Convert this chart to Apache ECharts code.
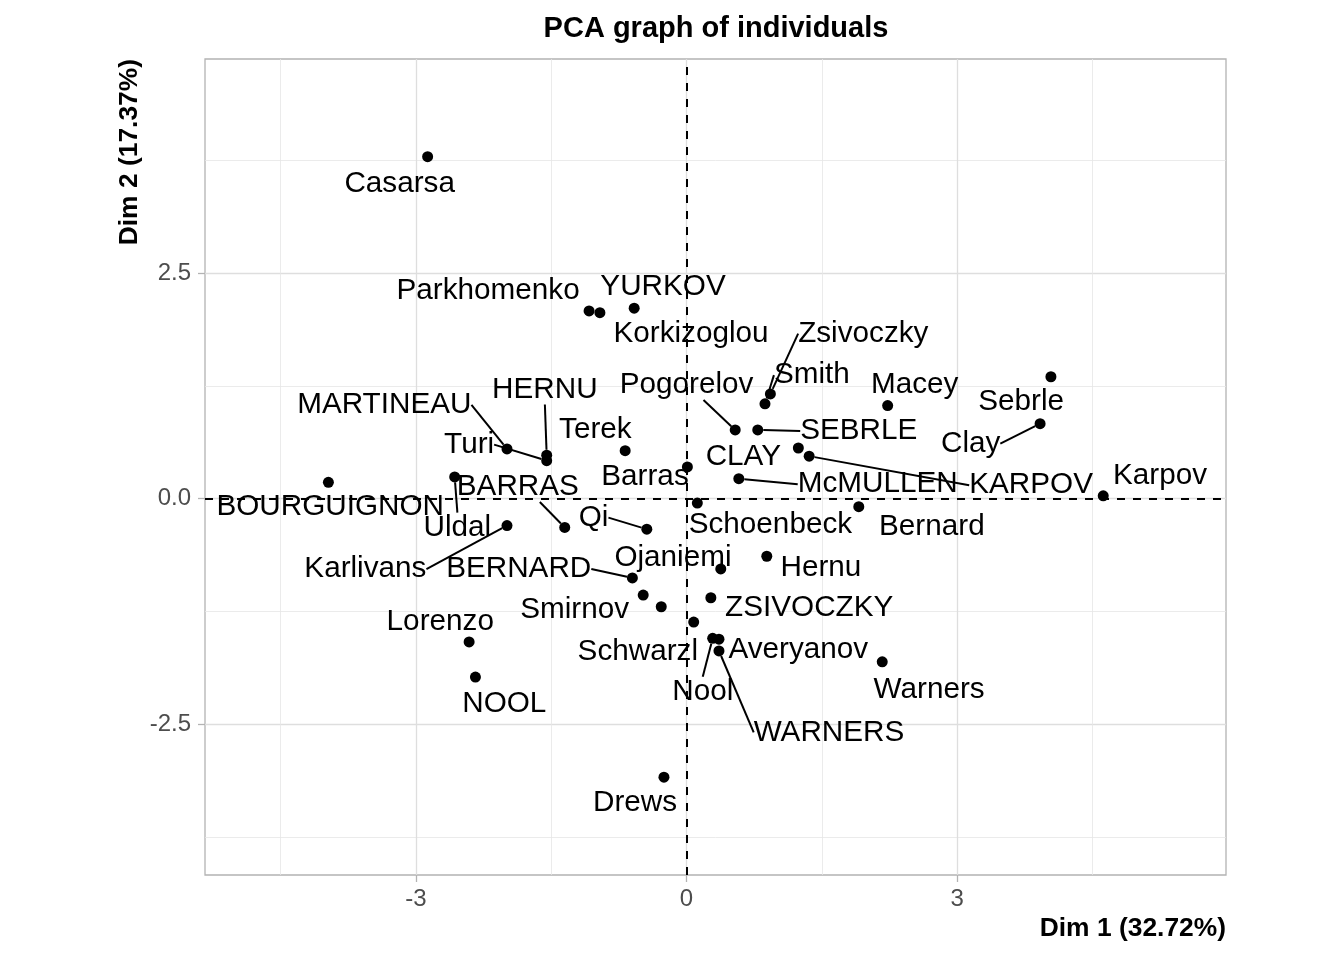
<!DOCTYPE html>
<html>
<head>
<meta charset="utf-8">
<title>PCA graph of individuals</title>
<script src="https://cdn.jsdelivr.net/npm/echarts@6.0.0/dist/echarts.min.js"></script>
<style>
  html, body { margin: 0; padding: 0; background: #fff; }
  #chart { width: 1344px; height: 960px; }
</style>
</head>
<body>
<div id="chart"></div>
<script>
// individuals, coordinates on Dim 1 / Dim 2
const names = ['SEBRLE', 'CLAY', 'KARPOV', 'BERNARD', 'YURKOV', 'WARNERS', 'ZSIVOCZKY', 'McMULLEN',
  'MARTINEAU', 'HERNU', 'BARRAS', 'NOOL', 'BOURGUIGNON', 'Sebrle', 'Clay', 'Karpov', 'Macey',
  'Warners', 'Zsivoczky', 'Hernu', 'Nool', 'Bernard', 'Schwarzl', 'Pogorelov', 'Schoenbeck',
  'Barras', 'Smith', 'Averyanov', 'Ojaniemi', 'Smirnov', 'Qi', 'Drews', 'Parkhomenko', 'Terek',
  'Gomez', 'Turi', 'Lorenzo', 'Karlivans', 'Korkizoglou', 'Uldal', 'Casarsa'];
const dim1 = [0.79, 1.24, 1.36, -0.60, -0.58, 0.36, 0.27, 0.58,
  -1.99, -1.55, -1.35, -2.34, -3.97, 4.04, 3.92, 4.62, 2.23,
  2.17, 0.93, 0.89, 0.29, 1.91, 0.08, 0.54, 0.12,
  0.01, 0.87, 0.36, 0.38, -0.28, -0.44, -0.25, -1.08, -0.68,
  -0.48, -1.55, -2.41, -1.99, -0.96, -2.57, -2.87];
const dim2 = [0.76, 0.56, 0.47, -0.88, 2.11, -1.69, -1.10, 0.22,
  0.55, 0.48, -0.32, -1.98, 0.18, 1.35, 0.83, 0.03, 1.03,
  -1.81, 1.16, -0.64, -1.55, -0.09, -1.37, 0.76, -0.05,
  0.35, 1.05, -1.56, -0.78, -1.20, -0.34, -3.09, 2.08, 0.53,
  -1.07, 0.42, -1.59, -0.30, 2.06, 0.24, 3.79];

// where each repelled label sits (same units as the axes); null = not labelled
const labelDim1 = [1.91, 0.63, 3.82, -1.86, -0.26, 1.58, 1.36, 2.12,
  -3.35, -1.57, -1.87, -2.02, -3.95, 3.71, 3.15, 5.25, 2.53,
  2.69, 1.96, 1.49, 0.18, 2.72, -0.54, 0.00, 0.93,
  -0.46, 1.39, 1.24, -0.15, -1.24, -1.03, -0.57, -2.20, -1.01,
  null, -2.41, -2.73, -3.56, 0.05, -2.54, -3.18];
const labelDim2 = [0.77, 0.49, 0.17, -0.76, 2.37, -2.57, -1.19, 0.18,
  1.06, 1.23, 0.15, -2.25, -0.07, 1.09, 0.63, 0.27, 1.28,
  -2.10, 1.85, -0.75, -2.12, -0.29, -1.68, 1.28, -0.27,
  0.26, 1.39, -1.66, -0.64, -1.21, -0.19, -3.35, 2.33, 0.78,
  null, 0.62, -1.35, -0.76, 1.85, -0.30, 3.51];
// labels joined to their point by a segment
const withSegment = ['SEBRLE', 'KARPOV', 'BERNARD', 'WARNERS', 'McMULLEN', 'MARTINEAU', 'HERNU',
  'BARRAS', 'Clay', 'Zsivoczky', 'Nool', 'Pogorelov', 'Smith', 'Qi', 'Turi', 'Karlivans', 'Uldal'];
// these two leave from the bottom of the label, so widen the (invisible) box on the right
const padRight = { Pogorelov: 34, BARRAS: 44 };

const xTicks = [-3, 0, 3];
const yTicks = [-2.5, 0, 2.5];
const xMinor = [-4.5, -1.5, 1.5, 4.5];
const yMinor = [-3.75, -1.25, 1.25, 3.75];
const xRange = [-5.338, 5.981];
const yRange = [-4.174, 4.873];

const FONT = '"Liberation Sans", Arial, Helvetica, sans-serif';

const chart = echarts.init(document.getElementById('chart'));

const points = names.map((n, i) => {
  const item = {
    name: n,
    value: [dim1[i], dim2[i]],
    label: { show: labelDim1[i] != null },
    labelLine: { show: withSegment.indexOf(n) >= 0 }
  };
  if (padRight[n]) {
    item.label.padding = [0, padRight[n], 0, 0];
    item.label.backgroundColor = 'rgba(255,255,255,0)';
  }
  return item;
});

function majorAxis(range, ticks, fmt, margin) {
  return {
    type: 'value',
    min: range[0],
    max: range[1],
    axisLine: { show: false, onZero: false },
    axisTick: {
      show: true, length: 7, customValues: ticks,
      lineStyle: { color: '#B3B3B3', width: 1.3 }
    },
    axisLabel: {
      customValues: ticks, margin: margin, formatter: fmt,
      color: '#4D4D4D', fontSize: 24, fontFamily: FONT
    },
    splitLine: { show: true, lineStyle: { color: '#DEDEDE', width: 1.3 } }
  };
}

function minorAxis(range, ticks) {
  return {
    type: 'value',
    min: range[0],
    max: range[1],
    axisLine: { show: false, onZero: false },
    axisTick: { show: false, customValues: ticks },
    axisLabel: { show: false, customValues: ticks },
    splitLine: { show: true, lineStyle: { color: '#E6E6E6', width: 0.8 } }
  };
}

const option = {
  animation: false,
  backgroundColor: '#fff',
  title: {
    text: 'PCA graph of individuals',
    left: 716,
    top: 14,
    padding: 0,
    textAlign: 'center',
    textStyle: { fontSize: 29, fontWeight: 'bold', color: '#000', fontFamily: FONT }
  },
  grid: {
    left: 205, top: 59, width: 1021, height: 816,
    show: true, borderColor: '#B3B3B3', borderWidth: 1.3,
    containLabel: false, outerBoundsMode: 'none'
  },
  xAxis: [
    majorAxis(xRange, xTicks, v => String(v), 12),
    minorAxis(xRange, xMinor)
  ],
  yAxis: [
    majorAxis(yRange, yTicks, v => v.toFixed(1), 14),
    minorAxis(yRange, yMinor)
  ],
  graphic: [
    {
      type: 'text', x: 1226, y: 929, silent: true,
      style: { text: 'Dim 1 (32.72%)', font: 'bold 26.4px ' + FONT, fill: '#000', align: 'right', verticalAlign: 'middle' }
    },
    {
      type: 'text', x: 130, y: 59, rotation: Math.PI / 2, silent: true,
      style: { text: 'Dim 2 (17.37%)', font: 'bold 26.4px ' + FONT, fill: '#000', align: 'right', verticalAlign: 'middle' }
    }
  ],
  series: [
    {
      type: 'scatter',
      xAxisIndex: 0,
      yAxisIndex: 0,
      symbol: 'circle',
      symbolSize: 11,
      itemStyle: { color: '#000', opacity: 1 },
      emphasis: { disabled: true },
      data: points,
      label: {
        show: true,
        formatter: '{b}',
        color: '#000',
        fontSize: 29.7,
        fontFamily: FONT
      },
      labelLine: {
        show: false,
        length2: 0,
        lineStyle: { color: '#000', width: 2, opacity: 1 }
      },
      labelLayout: function (params) {
        const i = params.dataIndex;
        if (labelDim1[i] == null) return {};
        const p = chart.convertToPixel({ seriesIndex: 0 }, [labelDim1[i], labelDim2[i]]);
        if (!p) return {};
        const shift = (padRight[names[i]] || 0) / 2;
        return { x: p[0] + shift, y: p[1] + 2, align: 'center', verticalAlign: 'middle' };
      },
      markLine: {
        silent: true,
        z: 1,
        symbol: 'none',
        animation: false,
        label: { show: false },
        lineStyle: { color: '#000', type: [8, 8], width: 2 },
        emphasis: { disabled: true },
        data: [{ xAxis: 0 }, { yAxis: 0 }]
      }
    }
  ]
};

chart.setOption(option);
</script>
</body>
</html>
